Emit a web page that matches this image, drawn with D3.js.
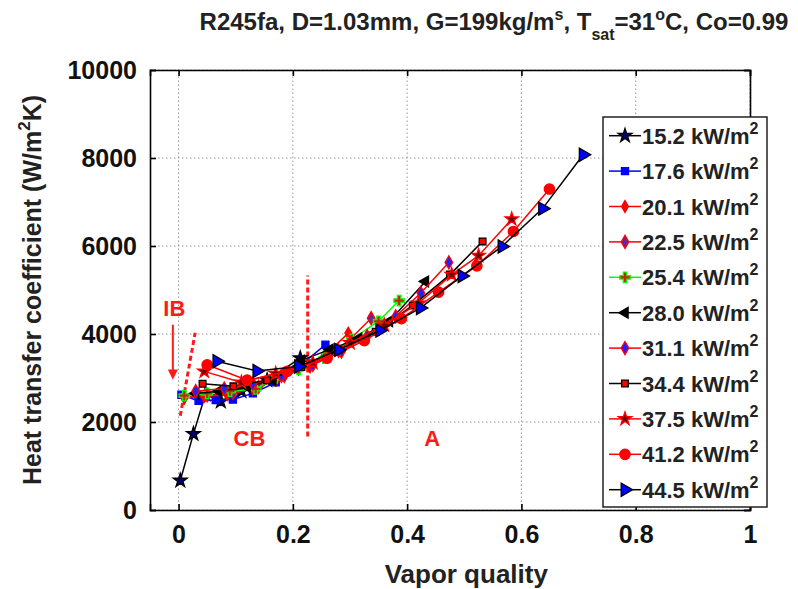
<!DOCTYPE html>
<html>
<head>
<meta charset="utf-8">
<script src="https://cdn.jsdelivr.net/npm/d3@7"></script>
<style>
  body { margin: 0; background: #fff; }
  text { font-family: "Liberation Sans", Arial, sans-serif; font-weight: bold; }
</style>
</head>
<body>
<script>
// heat flux labels (kW/m2), one per series
var fluxLabels = ["15.2", "17.6", "20.1", "22.5", "25.4", "28.0", "31.1", "34.4", "37.5", "41.2", "44.5"];

// vapor quality / heat transfer coefficient (W/m2K)
var q152 = [0.003, 0.026, 0.047, 0.074, 0.11, 0.155, 0.213];
var h152 = [670, 1730, 2630, 2470, 2700, 2950, 3450];
var q176 = [0.005, 0.035, 0.065, 0.095, 0.13, 0.17, 0.21, 0.257];
var h176 = [2620, 2480, 2500, 2510, 2650, 2900, 3250, 3757];
var q201 = [0.01, 0.045, 0.085, 0.13, 0.17, 0.21, 0.255, 0.297];
var h201 = [2550, 2580, 2620, 2750, 2950, 3200, 3500, 4020];
var q225 = [0.01, 0.05, 0.095, 0.14, 0.185, 0.23, 0.28, 0.337];
var h225 = [2560, 2610, 2660, 2800, 3050, 3270, 3620, 4360];
var q254 = [0.01, 0.05, 0.09, 0.135, 0.17, 0.21, 0.255, 0.303, 0.35, 0.386];
var h254 = [2600, 2650, 2700, 2750, 3000, 3200, 3450, 3880, 4290, 4760];
var q280 = [0.03, 0.07, 0.12, 0.165, 0.215, 0.265, 0.315, 0.369, 0.432];
var h280 = [2650, 2700, 2800, 2950, 3400, 3650, 3900, 4290, 5195];
var q311 = [0.03, 0.08, 0.13, 0.18, 0.235, 0.285, 0.33, 0.38, 0.424, 0.473];
var h311 = [2700, 2760, 2870, 3050, 3300, 3600, 3950, 4400, 4930, 5627];
var q344 = [0.042, 0.096, 0.155, 0.215, 0.28, 0.345, 0.41, 0.475, 0.532];
var h344 = [2870, 2810, 2950, 3250, 3650, 4050, 4650, 5350, 6105];
var q375 = [0.045, 0.11, 0.17, 0.235, 0.30, 0.36, 0.42, 0.478, 0.525, 0.583];
var h375 = [3150, 2900, 3100, 3350, 3800, 4200, 4700, 5350, 5780, 6610];
var q412 = [0.05, 0.12, 0.19, 0.26, 0.325, 0.39, 0.455, 0.522, 0.586, 0.649];
var h412 = [3300, 2950, 3150, 3450, 3850, 4350, 4950, 5550, 6330, 7295];
var q445 = [0.067, 0.137, 0.21, 0.28, 0.352, 0.423, 0.496, 0.566, 0.637, 0.708];
var h445 = [3380, 3160, 3260, 3640, 4080, 4590, 5320, 5990, 6850, 8075];

var xTicks = [0, 0.2, 0.4, 0.6, 0.8, 1];
var yTicks = [0, 2000, 4000, 6000, 8000, 10000];

// line colour, marker shape, marker fill, marker edge, marker size, rotation
var styles = [
    { line: "#000", sym: d3.symbolStar, fill: "#000070", edge: "#000", size: 60, rot: 0 },
    { line: "#0000ff", sym: d3.symbolSquare, fill: "#0000ff", edge: "#0000ff", size: 50, rot: 0 },
    { line: "#ff0000", sym: d3.symbolDiamond, fill: "#ff0000", edge: "#ff0000", size: 40, rot: 0 },
    { line: "#ff0000", sym: d3.symbolDiamond, fill: "#7020a0", edge: "#ff0000", size: 50, rot: 0 },
    { line: "#00ff00", sym: d3.symbolCross, fill: "#d02000", edge: "#00ff00", size: 60, rot: 0 },
    { line: "#000", sym: d3.symbolTriangle, fill: "#000", edge: "#000", size: 50, rot: -90 },
    { line: "#ff0000", sym: d3.symbolDiamond, fill: "#2020ff", edge: "#ff0000", size: 50, rot: 0 },
    { line: "#000", sym: d3.symbolSquare, fill: "#ff0000", edge: "#000", size: 45, rot: 0 },
    { line: "#ff0000", sym: d3.symbolStar, fill: "#700000", edge: "#ff0000", size: 55, rot: 0 },
    { line: "#ff0000", sym: d3.symbolCircle, fill: "#ff0000", edge: "#ff0000", size: 85, rot: 0 },
    { line: "#000", sym: d3.symbolTriangle, fill: "#0000ff", edge: "#000", size: 75, rot: 90 }
];

var qs = [q152, q176, q201, q225, q254, q280, q311, q344, q375, q412, q445];
var hs = [h152, h176, h201, h225, h254, h280, h311, h344, h375, h412, h445];
var series = fluxLabels.map(function (lab, i) {
    return { label: lab, style: styles[i], pts: qs[i].map(function (q, j) { return [q, hs[i][j]]; }) };
});

var width = 798, height = 589;
var svg = d3.select("body").append("svg")
    .attr("width", width).attr("height", height);

var x = d3.scaleLinear().domain([-0.05, 1]).range([150, 750]);
var y = d3.scaleLinear().domain([0, 10000]).range([510, 70]);

// dotted grid
var grid = svg.append("g").attr("stroke", "#999").attr("stroke-width", 1)
    .attr("stroke-dasharray", "1.5,2.5");
grid.selectAll(".gx").data(xTicks).enter().append("line")
    .attr("x1", function (d) { return x(d); }).attr("x2", function (d) { return x(d); })
    .attr("y1", y(0)).attr("y2", y(10000));
grid.selectAll(".gy").data(yTicks).enter().append("line")
    .attr("x1", x(-0.05)).attr("x2", x(1))
    .attr("y1", function (d) { return y(d); }).attr("y2", function (d) { return y(d); });

// axes, ticks pointing inwards like matlab
var fmt = d3.format("~g");
var axB = svg.append("g").attr("transform", "translate(0," + y(0) + ")")
    .call(d3.axisBottom(x).tickValues(xTicks).tickSize(-6).tickPadding(15).tickFormat(fmt));
var axT = svg.append("g").attr("transform", "translate(0," + y(10000) + ")")
    .call(d3.axisTop(x).tickValues(xTicks).tickSize(-6).tickFormat(""));
var axL = svg.append("g").attr("transform", "translate(" + x(-0.05) + ",0)")
    .call(d3.axisLeft(y).tickValues(yTicks).tickSize(-6).tickPadding(13).tickFormat(fmt));
var axR = svg.append("g").attr("transform", "translate(" + x(1) + ",0)")
    .call(d3.axisRight(y).tickValues(yTicks).tickSize(-6).tickFormat(""));
[axB, axT, axL, axR].forEach(function (a) {
    a.select(".domain").attr("stroke", "#000").attr("stroke-width", 1.6);
    a.selectAll(".tick line").attr("stroke", "#000").attr("stroke-width", 1.6);
    a.selectAll("text").attr("font-size", 25).attr("fill", "#111")
        .attr("font-family", "Liberation Sans, Arial, sans-serif");
});

// region annotations
var red = "#ff1a1a";
svg.append("line")
    .attr("x1", x(0.003)).attr("y1", y(2140)).attr("x2", x(0.029)).attr("y2", y(4030))
    .attr("stroke", red).attr("stroke-width", 3).attr("stroke-dasharray", "5,3");
svg.append("line")
    .attr("x1", x(0.226)).attr("y1", y(1670)).attr("x2", x(0.226)).attr("y2", y(5330))
    .attr("stroke", red).attr("stroke-width", 3).attr("stroke-dasharray", "5,3");
svg.append("line")
    .attr("x1", x(-0.01)).attr("y1", y(4210)).attr("x2", x(-0.01)).attr("y2", y(3100))
    .attr("stroke", red).attr("stroke-width", 2);
svg.append("path")
    .attr("d", "M" + (x(-0.01) - 5) + "," + (y(3100) - 4) + "L" + x(-0.01) + "," + y(2960) +
        "L" + (x(-0.01) + 5) + "," + (y(3100) - 4) + "Z")
    .attr("fill", red);
var notes = [["IB", -0.0075, 4400], ["CB", 0.124, 1460], ["A", 0.444, 1460]];
svg.selectAll(".note").data(notes).enter().append("text")
    .attr("x", function (d) { return x(d[1]); }).attr("y", function (d) { return y(d[2]); })
    .attr("text-anchor", "middle").attr("font-size", 22).attr("fill", red)
    .text(function (d) { return d[0]; });

// series lines and markers
var line = d3.line().x(function (d) { return x(d[0]); }).y(function (d) { return y(d[1]); });
function marker(sel, st) {
    sel.append("path")
        .attr("d", d3.symbol().type(st.sym).size(st.size)())
        .attr("fill", st.fill).attr("stroke", st.edge).attr("stroke-width", 1.3)
        .attr("transform", function (d) {
            return "translate(" + d[0] + "," + d[1] + ") rotate(" + st.rot + ")";
        });
}
series.forEach(function (s) {
    var g = svg.append("g");
    g.append("path").datum(s.pts).attr("d", line)
        .attr("fill", "none").attr("stroke", s.style.line).attr("stroke-width", 1.5);
    var m = g.selectAll(".m").data(s.pts.map(function (p) { return [x(p[0]), y(p[1])]; }))
        .enter().append("g");
    m.each(function (d) { marker(d3.select(this).datum(d), s.style); });
});

// legend
var lg = svg.append("g");
lg.append("rect").attr("x", 603).attr("y", 117).attr("width", 164).attr("height", 390)
    .attr("fill", "#fff").attr("stroke", "#222").attr("stroke-width", 1.5);
var rows = lg.selectAll(".row").data(series).enter().append("g")
    .attr("transform", function (d, i) { return "translate(0," + (135.7 + i * 35.4) + ")"; });
rows.append("line").attr("x1", 609).attr("x2", 641).attr("y1", 0).attr("y2", 0)
    .attr("stroke", function (d) { return d.style.line; }).attr("stroke-width", 1.5);
rows.each(function (d) {
    var r = d3.select(this).append("g").datum([625, 0]);
    marker(r, d.style);
});
var lt = rows.append("text").attr("x", 642).attr("y", 8).attr("font-size", 22).attr("fill", "#222");
lt.append("tspan").text(function (d) { return d.label + " kW/m"; });
lt.append("tspan").attr("dy", -10).attr("font-size", 16).text("2");

// title
var title = svg.append("text").attr("x", 494).attr("y", 30).attr("text-anchor", "middle")
    .attr("font-size", 24).attr("fill", "#222");
title.append("tspan").text("R245fa, D=1.03mm, G=199kg/m");
title.append("tspan").attr("dy", -10).attr("font-size", 16).text("s");
title.append("tspan").attr("dy", 10).text(", T");
title.append("tspan").attr("dy", 10).attr("font-size", 16).text("sat");
title.append("tspan").attr("dy", -10).text("=31");
title.append("tspan").attr("dy", -10).attr("font-size", 16).text("o");
title.append("tspan").attr("dy", 10).text("C, Co=0.99");

// axis labels
svg.append("text").attr("x", x(0.5) + 2).attr("y", 583).attr("text-anchor", "middle")
    .attr("font-size", 26).attr("fill", "#222").text("Vapor quality");
var yl = svg.append("text").attr("transform", "translate(41,290) rotate(-90)")
    .attr("text-anchor", "middle").attr("font-size", 25).attr("fill", "#222");
yl.append("tspan").text("Heat transfer coefficient (W/m");
yl.append("tspan").attr("dy", -11).attr("font-size", 17).text("2");
yl.append("tspan").attr("dy", 11).text("K)");
</script>
</body>
</html>
